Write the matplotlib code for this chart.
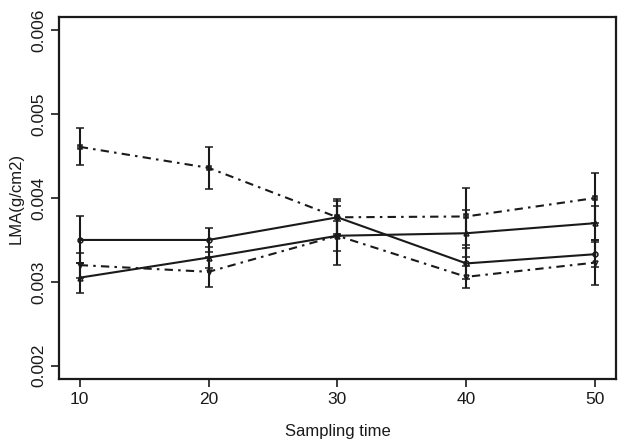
import numpy as np
import matplotlib
matplotlib.use('Agg')
import matplotlib.pyplot as plt

plt.rcParams['font.family'] = ['Liberation Sans Narrow', 'Liberation Sans', 'DejaVu Sans']

# sampling times
t = [10, 20, 30, 40, 50]

# LMA means (g/cm2)
lma_a = [0.00461, 0.00436, 0.00377, 0.00378, 0.00400]
lma_b = [0.00350, 0.00350, 0.00377, 0.00322, 0.00333]
lma_c = [0.00305, 0.00329, 0.00355, 0.00358, 0.00370]
lma_d = [0.00320, 0.00312, 0.00355, 0.00306, 0.00323]

# error bar half widths
err_a = [0.00022, 0.00025, 0.00022, 0.00034, 0.00030]
err_b = [0.00028, 0.00014, 0.00020, 0.00018, 0.00015]
err_c = [0.00018, 0.00012, 0.00018, 0.00028, 0.00020]
err_d = [0.00015, 0.00018, 0.00035, 0.00013, 0.00027]

fig = plt.figure(figsize=(6.22, 4.45), dpi=100)
ax = fig.add_axes([0.095, 0.148, 0.895, 0.814])

series = [
    (lma_a, err_a, (0, (4, 2.5, 1.2, 2.5)), 's'),
    (lma_b, err_b, '-', 'o'),
    (lma_c, err_c, '-', '^'),
    (lma_d, err_d, (0, (4, 2.5, 1.2, 2.5)), 'v'),
]
for y, e, ls, mk in series:
    ax.errorbar(t, y, yerr=e, color='#1a1a1a', linestyle=ls, linewidth=1.5,
                marker=mk, markersize=3.5, markerfacecolor='none',
                markeredgewidth=1.1, elinewidth=1.5, capsize=3, capthick=1.5)

ax.set_xlim(8.4, 51.6)
ax.set_ylim(0.00184, 0.00616)
ax.set_xticks(t)
ax.set_yticks([0.002, 0.003, 0.004, 0.005, 0.006])
ax.set_yticklabels(['0.002', '0.003', '0.004', '0.005', '0.006'],
                   rotation=90, va='center')
ax.tick_params(direction='out', length=6, width=1.2, colors='#1a1a1a',
               labelsize=12.5)
for s in ax.spines.values():
    s.set_linewidth(1.6)
    s.set_color('#1a1a1a')

ax.set_xlabel('Sampling time', fontsize=12, color='#1a1a1a', labelpad=12)
ax.set_ylabel('LMA(g/cm2)', fontsize=12, color='#1a1a1a')
ax.yaxis.set_label_coords(-0.063, 0.5)

fig.savefig('out.png', dpi=100)
